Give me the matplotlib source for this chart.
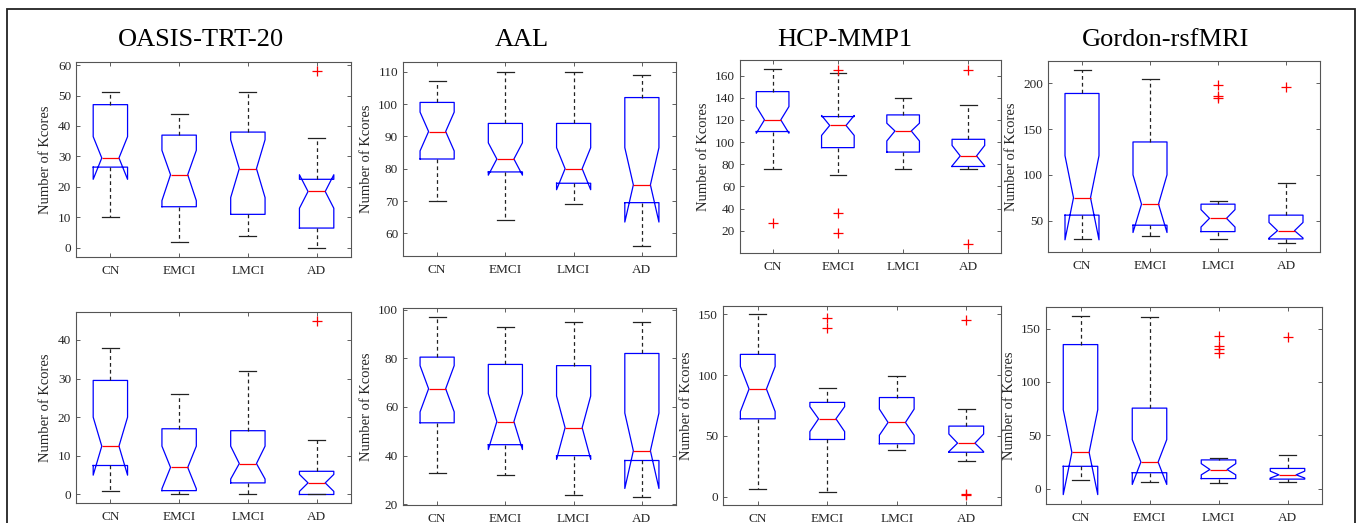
import numpy as np
import matplotlib
matplotlib.use('Agg')
import matplotlib.pyplot as plt
from matplotlib.patches import Rectangle

plt.rcParams['font.family'] = ['Liberation Serif', 'DejaVu Serif']

# Data
###############################

groups = ['CN', 'EMCI', 'LMCI', 'AD']
titles = ['OASIS-TRT-20', 'AAL', 'HCP-MMP1', 'Gordon-rsfMRI']

# one row per panel: top row (4 atlases) then bottom row (4 atlases)
whislo = [[10, 2, 4, 0], [70, 64, 69, 56], [76, 70, 75.5, 76], [30, 33, 30, 25],
          [1, 0, 0, 0], [33, 32, 24, 23], [6, 4, 38, 29], [8, 6, 5, 6]]
q1 = [[26.5, 13.5, 11, 6.5], [83, 79, 75.5, 69.5], [109.5, 95, 91, 78], [56, 45, 38, 30],
      [7.5, 1, 3, 0], [53.5, 44.5, 40, 38], [64, 47, 43.5, 36.5], [21, 15, 9.5, 9]]
cilo = [[22.5, 15.5, 16.5, 13], [85.5, 78, 73.5, 63.5], [108, 106, 101, 78.5], [29, 37, 43, 31],
        [5, 1.5, 4, 0.8], [58, 42.5, 38.5, 26.5], [70, 53.5, 50.5, 37], [-5.5, 4, 13, 10]]
med = [[29.5, 24, 26, 18.5], [91.5, 83, 80, 75], [120, 115, 110, 87.5], [75, 68, 52.5, 39],
       [12.5, 7, 8, 3], [67.5, 54, 51.5, 42], [88.5, 64, 61, 44], [34, 25, 18, 13]]
cihi = [[36.5, 32, 35.5, 24], [97.5, 88, 86.5, 86.5], [132, 124, 117, 97], [121, 100, 62, 48],
        [20, 12.5, 12.5, 5.2], [77, 65.5, 64.5, 57.5], [107, 74, 72, 51.5], [74, 46, 23.5, 16.5]]
q3 = [[47, 37, 38, 22.5], [100.5, 94, 94, 102], [145.5, 123, 124.5, 102.5], [189, 136, 68, 56],
      [29.5, 17, 16.5, 6], [80.5, 77.5, 77, 82], [117, 77.5, 81.5, 58], [135, 75.5, 27, 19]]
whishi = [[51, 44, 51, 36], [107, 110, 110, 109], [166, 162, 140, 133], [215, 205, 71, 91],
          [38, 26, 32, 14], [97, 93, 95, 95], [150, 89, 99, 72], [162, 161, 29, 32]]
fliers = [[[], [], [], [58]],
          [[], [], [], []],
          [[27], [165, 36, 18], [], [165, 8]],
          [[], [], [198, 186, 184.5], [196]],
          [[], [], [], [45]],
          [[], [], [], []],
          [[], [147, 139], [], [145, 2, 1]],
          [[], [], [143, 134, 130.5, 127], [142]]]

ylims = [(-3, 61), (53, 113), (0, 174), (15.7, 224.5),
         (-2.2, 47.2), (19.7, 100.7), (-6.9, 156.8), (-14.3, 170.2)]
yticks = [np.arange(0, 61, 10), np.arange(60, 111, 10), np.arange(20, 161, 20), [50, 100, 150, 200],
          np.arange(0, 41, 10), np.arange(20, 101, 20), [0, 50, 100, 150], [0, 50, 100, 150]]

# Layout in pixels (left, right, top, bottom)
##############################################
W, H = 1358, 523
boxes_px = [(76, 351, 62, 257), (403, 676, 62, 256), (740, 1001, 60, 253), (1048, 1320, 61, 252),
            (76, 351, 312, 503), (403, 676, 308, 505), (723, 1001, 306, 505), (1046, 1322, 307, 504)]
title_x_px = [201, 522, 845, 1166]

fig = plt.figure(figsize=(W / 100, H / 100), dpi=100)

for k in range(8):
    l, r, t, b = boxes_px[k]
    ax = fig.add_axes([l / W, 1 - b / H, (r - l) / W, (b - t) / H])

    stats = []
    for i in range(4):
        stats.append(dict(whislo=whislo[k][i], q1=q1[k][i], cilo=cilo[k][i], med=med[k][i],
                          cihi=cihi[k][i], q3=q3[k][i], whishi=whishi[k][i],
                          fliers=fliers[k][i]))

    ax.bxp(stats, positions=[1, 2, 3, 4], widths=0.5, shownotches=True,
           boxprops=dict(color='blue', lw=0.9),
           whiskerprops=dict(color='#222222', linestyle='--', lw=0.9, dashes=(3, 2.5)),
           capprops=dict(color='#222222', lw=0.9),
           medianprops=dict(color='red', lw=0.9),
           flierprops=dict(marker='+', markeredgecolor='red', markersize=7,
                           markeredgewidth=0.9, linestyle='none'))

    ax.set_xlim(0.5, 4.5)
    ax.set_ylim(*ylims[k])
    ax.set_yticks(yticks[k])
    ax.set_xticks([1, 2, 3, 4])
    ax.set_xticklabels(groups)
    ax.tick_params(direction='in', length=3, width=0.6, top=True, right=True,
                   labelsize=9.5, colors='#444444', labelcolor='#262626')
    ax.tick_params(axis='x', pad=6)
    for s in ax.spines.values():
        s.set_color('#555555')
        s.set_linewidth(0.8)
    ax.set_ylabel('Number of Kcores', fontsize=10.5, color='#262626', labelpad=4)

# titles sit above the top row
for j in range(4):
    fig.text(title_x_px[j] / W, 1 - 46 / H, titles[j], fontsize=19,
             ha='center', va='baseline', color='black')

# outer frame (bottom edge falls below the image)
fig.add_artist(Rectangle((7 / W, -0.1), (1355 - 7) / W, 1 - 9 / H + 0.1,
                         transform=fig.transFigure, fill=False, lw=1.3,
                         edgecolor='#222222'))

fig.savefig('out.png', dpi=100)
